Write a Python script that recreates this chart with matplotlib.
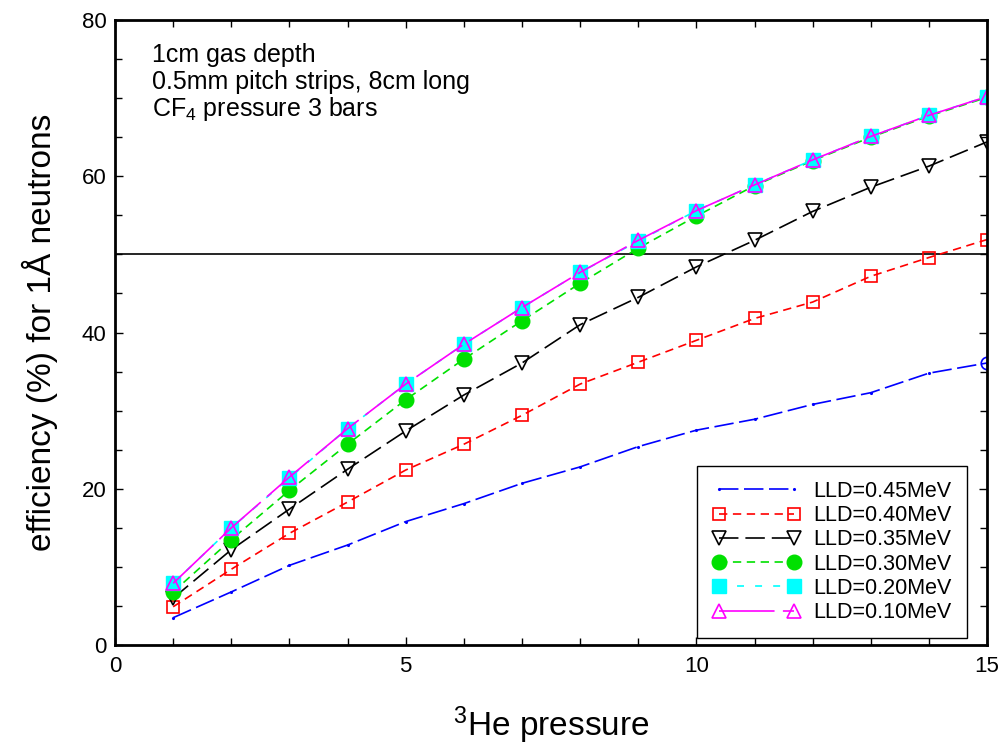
#!/usr/bin/env python3
import matplotlib
matplotlib.use("Agg")
import matplotlib.pyplot as plt
import numpy as np

plt.rcParams['font.family'] = ['Liberation Sans', 'DejaVu Sans']
plt.rcParams['mathtext.fontset'] = 'custom'
plt.rcParams['mathtext.rm'] = 'Liberation Sans'
plt.rcParams['mathtext.it'] = 'Liberation Sans'
plt.rcParams['lines.scale_dashes'] = False

# 3He pressure (bar)
pressure = [1, 2, 3, 4, 5, 6, 7, 8, 9, 10, 11, 12, 13, 14, 15]

# efficiency (%) for each lower level discriminator setting
eff_045 = [3.5, 6.8, 10.2, 12.8, 15.8, 18.1, 20.7, 22.8, 25.4, 27.5, 28.9, 30.8, 32.3, 34.8, 36.1]
eff_040 = [4.9, 9.7, 14.3, 18.3, 22.4, 25.7, 29.4, 33.4, 36.2, 39.0, 41.8, 43.9, 47.2, 49.6, 51.9]
eff_035 = [6.0, 12.2, 17.4, 22.5, 27.4, 32.0, 36.1, 41.0, 44.5, 48.4, 51.8, 55.5, 58.6, 61.3, 64.4]
eff_030 = [6.8, 13.5, 19.8, 25.7, 31.4, 36.6, 41.5, 46.3, 50.8, 54.9, 58.8, 62.0, 65.0, 67.7, 70.1]
eff_020 = [7.9, 15.0, 21.4, 27.7, 33.4, 38.5, 43.2, 47.7, 51.7, 55.6, 58.9, 62.1, 65.1, 67.8, 70.2]
eff_010 = [7.9, 15.0, 21.5, 27.7, 33.4, 38.5, 43.2, 47.7, 51.8, 55.6, 58.9, 62.1, 65.1, 67.8, 70.2]

labels = ["LLD=0.45MeV", "LLD=0.40MeV", "LLD=0.35MeV",
          "LLD=0.30MeV", "LLD=0.20MeV", "LLD=0.10MeV"]

notes = ["1cm gas depth", "0.5mm pitch strips, 8cm long", "CF$_4$ pressure 3 bars"]

fig = plt.figure(figsize=(10.03, 7.47), dpi=100)
ax = fig.add_axes([0.1147, 0.1365, 0.8694, 0.8367])

ax.axhline(50, color='black', lw=1.2, zorder=1)

ax.plot(pressure, eff_045, color='#0000ff', lw=1.2, dashes=(14, 4),
        marker='.', ms=2.5, label=labels[0])
# open circle only on the last point of the 0.45 MeV curve
ax.plot(pressure[-1:], eff_045[-1:], ls='none', marker='o', ms=9,
        mfc='none', mec='#0000ff', mew=1.2)
ax.plot(pressure, eff_040, color='#ff0000', lw=1.2, dashes=(6, 4),
        marker='s', ms=9, mfc='none', mec='#ff0000', mew=1.2, label=labels[1])
ax.plot(pressure, eff_035, color='black', lw=1.2, dashes=(14, 5),
        marker='v', ms=10, mfc='none', mec='black', mew=1.2, label=labels[2])
ax.plot(pressure, eff_030, color='#00e000', lw=1.2, dashes=(6, 4),
        marker='o', ms=10.5, mfc='#00e000', mec='#00e000', label=labels[3])
ax.plot(pressure, eff_020, color='#00ffff', lw=1.2, dashes=(5, 8),
        marker='s', ms=10, mfc='#00ffff', mec='#00ffff', label=labels[4])
ax.plot(pressure, eff_010, color='#ff00ff', lw=1.2, dashes=(40, 6),
        marker='^', ms=10.5, mfc='none', mec='#ff00ff', mew=1.2, label=labels[5])

ax.set_xlim(0, 15)
ax.set_ylim(0, 80)
ax.set_xticks([0, 5, 10, 15])
ax.set_xticks(np.arange(0, 16, 1), minor=True)
ax.set_yticks([0, 20, 40, 60, 80])
ax.set_yticks(np.arange(0, 81, 5), minor=True)
ax.tick_params(which='both', direction='in', top=True, right=True,
               width=1, labelsize=16)
ax.tick_params(axis='x', which='major', pad=8)
ax.tick_params(axis='y', which='major', pad=6)
ax.tick_params(which='major', length=6)
ax.tick_params(which='minor', length=5)
for s in ax.spines.values():
    s.set_linewidth(2)

ax.set_xlabel(r'$^{3}$He pressure', fontsize=24, va='center')
ax.set_ylabel(u'efficiency (%) for 1\u00c5 neutrons', fontsize=24, va='center')
ax.xaxis.set_label_coords(0.5, -0.128)
ax.yaxis.set_label_coords(-0.086, 0.5)

for note, yb in zip(notes, [0.9328, 0.8904, 0.8464]):
    ax.text(0.0424, yb, note, transform=ax.transAxes, fontsize=18,
            va='baseline', ha='left')

leg = ax.legend(loc='lower right', bbox_to_anchor=(0.977, 0.011),
                borderaxespad=0, fontsize=15.5, numpoints=2,
                handlelength=4.1, labelspacing=0.15, borderpad=0.7,
                handletextpad=0.6, fancybox=False, framealpha=1,
                edgecolor='black')
leg.get_frame().set_linewidth(1)

plt.savefig('out.png', dpi=100)
